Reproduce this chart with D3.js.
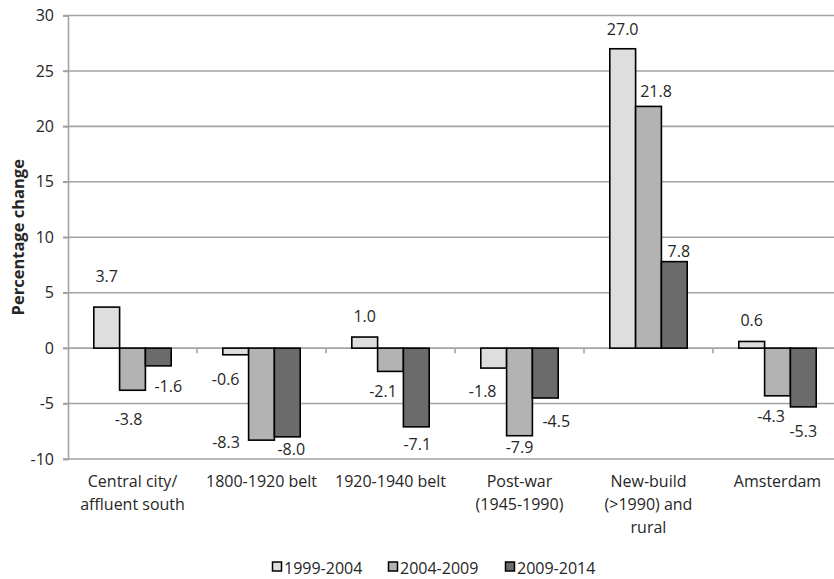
<!DOCTYPE html>
<html>
<head>
<meta charset="utf-8">
<script src="https://cdn.jsdelivr.net/npm/d3@7"></script>
<style>
  html, body { margin: 0; padding: 0; background: #fff; }
  svg { display: block; }
  text { font-family: "Open Sans", "Noto Sans", sans-serif; fill: #262626; }
</style>
</head>
<body>
<svg id="chart" width="834" height="579"></svg>
<script>
// Area types and their label lines
const categories = [
  "Central city/ affluent south",
  "1800-1920 belt",
  "1920-1940 belt",
  "Post-war (1945-1990)",
  "New-build (>1990) and rural",
  "Amsterdam"
];
const categoryLines = [
  ["Central city/", "affluent south"],
  ["1800-1920 belt"],
  ["1920-1940 belt"],
  ["Post-war", "(1945-1990)"],
  ["New-build", "(>1990) and", "rural"],
  ["Amsterdam"]
];

// Periods
const seriesNames = ["1999-2004", "2004-2009", "2009-2014"];

// Percentage change per period, one value per area type
const values1999_2004 = [3.7, -0.6, 1.0, -1.8, 27.0, 0.6];
const values2004_2009 = [-3.8, -8.3, -2.1, -7.9, 21.8, -4.3];
const values2009_2014 = [-1.6, -8.0, -7.1, -4.5, 7.8, -5.3];

const yTicks = [-10, -5, 0, 5, 10, 15, 20, 25, 30];

// Hand-placed data label offsets [dx, dy] from the bar end, per series
const labelNudge = [
  [[0, -25], [-10, 30], [0, -15], [-11, 29], [0, -13.5], [0, -15]],
  [[-4, 35], [-35.5, 8], [-7.5, 26], [0, 17], [7.5, -9], [-6.5, 26]],
  [[10, 26], [4, 18], [1, 23], [11, 29], [4.5, -4.5], [0, 30]]
];

const fills = ["#dedede", "#b3b3b3", "#6b6b6b"];

// Plain hyphen for negatives
const fmt1 = d => d.toFixed(1);
const fmt0 = d => String(d);

const seriesValues = [values1999_2004, values2004_2009, values2009_2014];
const rows = [];
seriesValues.forEach((vals, s) => {
  vals.forEach((v, c) => rows.push({ s, c, v }));
});

const svg = d3.select("#chart");

const plot = { left: 68, right: 842, top: 15.5, bottom: 459 };

const x0 = d3.scaleBand()
  .domain(d3.range(categories.length))
  .range([plot.left, plot.right])
  .paddingInner(0).paddingOuter(0);

const bw = x0.bandwidth();
const x1 = d3.scaleBand()
  .domain(d3.range(seriesNames.length))
  .range([bw * 0.2, bw * 0.8])
  .padding(0);

const y = d3.scaleLinear().domain([-10, 30]).range([plot.bottom, plot.top]);

const gridColor = "#a3a3a3";

// Horizontal gridlines
svg.append("g")
  .selectAll("line")
  .data(yTicks)
  .join("line")
  .attr("x1", plot.left - 5)
  .attr("x2", plot.right)
  .attr("y1", d => y(d))
  .attr("y2", d => y(d))
  .attr("stroke", gridColor)
  .attr("stroke-width", 1.6);

// Y axis
const yAxis = svg.append("g")
  .attr("transform", `translate(${plot.left},0)`)
  .call(d3.axisLeft(y).tickValues(yTicks).tickSize(5).tickPadding(9).tickFormat(fmt0));
yAxis.select(".domain").attr("stroke", gridColor).attr("stroke-width", 1.6);
yAxis.selectAll(".tick line").attr("stroke", gridColor).attr("stroke-width", 1.6);
yAxis.selectAll(".tick text")
  .attr("font-family", "Open Sans, sans-serif")
  .attr("font-size", 16)
  .attr("fill", "#262626");

// Category tick marks on the zero line
svg.append("g")
  .selectAll("line")
  .data(d3.range(1, categories.length + 1))
  .join("line")
  .attr("x1", d => plot.left + d * bw)
  .attr("x2", d => plot.left + d * bw)
  .attr("y1", y(0))
  .attr("y2", y(0) + 5)
  .attr("stroke", gridColor)
  .attr("stroke-width", 1.6);

// Bars
svg.append("g")
  .selectAll("rect")
  .data(rows)
  .join("rect")
  .attr("x", d => x0(d.c) + x1(d.s))
  .attr("width", x1.bandwidth())
  .attr("y", d => y(Math.max(0, d.v)))
  .attr("height", d => Math.abs(y(d.v) - y(0)))
  .attr("fill", d => fills[d.s])
  .attr("stroke", "#000")
  .attr("stroke-width", 1.6);

// Data labels
svg.append("g")
  .selectAll("text")
  .data(rows)
  .join("text")
  .attr("x", d => x0(d.c) + x1(d.s) + x1.bandwidth() / 2 + labelNudge[d.s][d.c][0])
  .attr("y", d => y(d.v) + labelNudge[d.s][d.c][1])
  .attr("text-anchor", "middle")
  .attr("font-size", 16)
  .text(d => fmt1(d.v));

// Category labels
const catG = svg.append("g")
  .selectAll("text")
  .data(categoryLines)
  .join("text")
  .attr("x", (d, i) => x0(i) + bw / 2)
  .attr("y", 487)
  .attr("text-anchor", "middle")
  .attr("font-size", 16);
catG.selectAll("tspan")
  .data(d => d)
  .join("tspan")
  .attr("x", function () { return d3.select(this.parentNode).attr("x"); })
  .attr("dy", (d, i) => i === 0 ? 0 : 23)
  .text(d => d);

// Y axis title
svg.append("text")
  .attr("transform", `translate(24,${(plot.top + plot.bottom) / 2}) rotate(-90)`)
  .attr("text-anchor", "middle")
  .attr("font-size", 16.5)
  .attr("font-weight", "bold")
  .attr("fill", "#000")
  .text("Percentage change");

// Legend
const legendX = [272, 388, 505];
const legend = svg.append("g")
  .selectAll("g")
  .data(seriesNames)
  .join("g")
  .attr("transform", (d, i) => `translate(${legendX[i]},0)`);
legend.append("rect")
  .attr("x", 0.5).attr("y", 562)
  .attr("width", 9).attr("height", 9)
  .attr("fill", (d, i) => fills[i])
  .attr("stroke", "#000")
  .attr("stroke-width", 1.5);
legend.append("text")
  .attr("x", 12)
  .attr("y", 574)
  .attr("font-size", 16)
  .text(d => d);
</script>
</body>
</html>
